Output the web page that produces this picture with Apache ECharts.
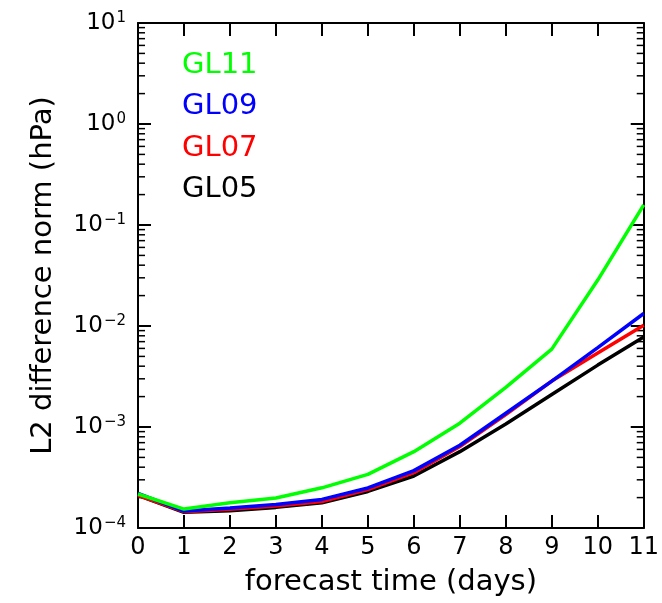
<!DOCTYPE html>
<html>
<head>
<meta charset="utf-8">
<script src="https://cdn.jsdelivr.net/npm/echarts@6/dist/echarts.min.js"></script>
<style>
  html, body { margin: 0; padding: 0; background: #fff; }
  #chart { width: 662px; height: 603px; }
</style>
</head>
<body>
<div id="chart"></div>
<script>
// forecast days on the x axis
const days = [0, 1, 2, 3, 4, 5, 6, 7, 8, 9, 10, 11];

// L2 difference norm (hPa)
const gl11 = [2.17e-4, 1.54e-4, 1.78e-4, 1.98e-4, 2.5e-4, 3.4e-4, 5.7e-4, 1.09e-3, 2.47e-3, 5.9e-3, 2.85e-2, 0.158];
const gl09 = [2.2e-4, 1.47e-4, 1.58e-4, 1.71e-4, 1.92e-4, 2.49e-4, 3.7e-4, 6.6e-4, 1.37e-3, 2.85e-3, 6.1e-3, 1.33e-2];
const gl07 = [2.1e-4, 1.45e-4, 1.53e-4, 1.65e-4, 1.83e-4, 2.4e-4, 3.53e-4, 6.4e-4, 1.33e-3, 2.85e-3, 5.4e-3, 1.02e-2];
const gl05 = [2.1e-4, 1.43e-4, 1.48e-4, 1.6e-4, 1.78e-4, 2.3e-4, 3.27e-4, 5.7e-4, 1.07e-3, 2.1e-3, 4.1e-3, 7.8e-3];

// minor tick values for the log axis (2..9 within each decade)
const minorTicks = [];
for (let e = -4; e <= 0; e++) {
    for (let m = 2; m <= 9; m++) minorTicks.push(m * Math.pow(10, e));
}

const FONT = 'DejaVu Sans';
const chart = echarts.init(document.getElementById('chart'));

function pair(values) {
    return values.map((v, i) => [days[i], v]);
}

function lineSeries(name, values, color) {
    return {
        name: name,
        type: 'line',
        data: pair(values),
        symbol: 'none',
        lineStyle: { color: color, width: 3.5 },
        itemStyle: { color: color },
        z: 3
    };
}

// exponent label like 10^-2 using rich text
function powLabel(value) {
    const e = Math.round(Math.log10(value));
    const s = e < 0 ? '\u2212' + Math.abs(e) : String(e);
    return '{b|10}{s|' + s + '}';
}

const axisLineStyle = { color: '#000', width: 2 };

const option = {
    animation: false,
    backgroundColor: '#fff',
    textStyle: { fontFamily: FONT },
    grid: { left: 138, right: 16, top: 23, bottom: 75 },
    legend: {
        orient: 'vertical',
        left: 172,
        top: 45,
        icon: 'none',
        itemWidth: 0,
        itemHeight: 30,
        itemGap: 12,
        selectedMode: false,
        textStyle: { fontFamily: FONT, fontSize: 29 },
        data: [
            { name: 'GL11', textStyle: { color: '#00ff00' } },
            { name: 'GL09', textStyle: { color: '#0000ff' } },
            { name: 'GL07', textStyle: { color: '#ff0000' } },
            { name: 'GL05', textStyle: { color: '#000000' } }
        ]
    },
    xAxis: [{
        type: 'value',
        position: 'bottom',
        min: 0,
        max: 11,
        interval: 1,
        name: 'forecast time (days)',
        nameLocation: 'middle',
        nameGap: 40,
        nameTextStyle: { fontFamily: FONT, fontSize: 29, color: '#000' },
        axisLine: { show: true, onZero: false, lineStyle: axisLineStyle },
        axisTick: { show: true, inside: true, length: 13, lineStyle: axisLineStyle },
        axisLabel: { fontFamily: FONT, fontSize: 24, color: '#000', margin: 8 },
        splitLine: { show: false }
    }, {
        type: 'value',
        position: 'top',
        min: 0,
        max: 11,
        interval: 1,
        axisLine: { show: true, onZero: false, lineStyle: axisLineStyle },
        axisTick: { show: true, inside: true, length: 13, lineStyle: axisLineStyle },
        axisLabel: { show: false },
        splitLine: { show: false }
    }],
    yAxis: [{
        type: 'log',
        logBase: 10,
        position: 'left',
        min: 1e-4,
        max: 10,
        name: 'L2 difference norm (hPa)',
        nameLocation: 'middle',
        nameGap: 80,
        nameTextStyle: { fontFamily: FONT, fontSize: 29, color: '#000' },
        axisLine: { show: true, onZero: false, lineStyle: axisLineStyle },
        axisTick: { show: true, inside: true, length: 13, lineStyle: axisLineStyle },
        axisLabel: {
            margin: 12,
            formatter: powLabel,
            rich: {
                b: { fontFamily: FONT, fontSize: 23, color: '#000', verticalAlign: 'bottom', lineHeight: 24 },
                s: { fontFamily: FONT, fontSize: 15, color: '#000', verticalAlign: 'top', lineHeight: 24, padding: [0, 0, 8, 1] }
            }
        },
        splitLine: { show: false }
    }, {
        type: 'log',
        logBase: 10,
        position: 'right',
        min: 1e-4,
        max: 10,
        axisLine: { show: true, onZero: false, lineStyle: axisLineStyle },
        axisTick: { show: true, inside: true, length: 13, lineStyle: axisLineStyle },
        axisLabel: { show: false },
        splitLine: { show: false }
    }],
    series: [
        lineSeries('GL05', gl05, '#000000'),
        lineSeries('GL07', gl07, '#ff0000'),
        lineSeries('GL09', gl09, '#0000ff'),
        lineSeries('GL11', gl11, '#00ff00'),
        {
            // minor log ticks on both vertical sides, placed through the axis scale
            type: 'custom',
            silent: true,
            clip: false,
            data: minorTicks.map(v => [0, v]),
            renderItem: function (params, api) {
                const v = api.value(1);
                const l = api.coord([0, v]);
                const r = api.coord([11, v]);
                const style = { stroke: '#000', lineWidth: 1.5 };
                return {
                    type: 'group',
                    children: [
                        { type: 'line', shape: { x1: l[0], y1: l[1], x2: l[0] + 7, y2: l[1] }, style: style },
                        { type: 'line', shape: { x1: r[0], y1: r[1], x2: r[0] - 7, y2: r[1] }, style: style }
                    ]
                };
            },
            z: 2
        }
    ]
};

chart.setOption(option);
</script>
</body>
</html>
